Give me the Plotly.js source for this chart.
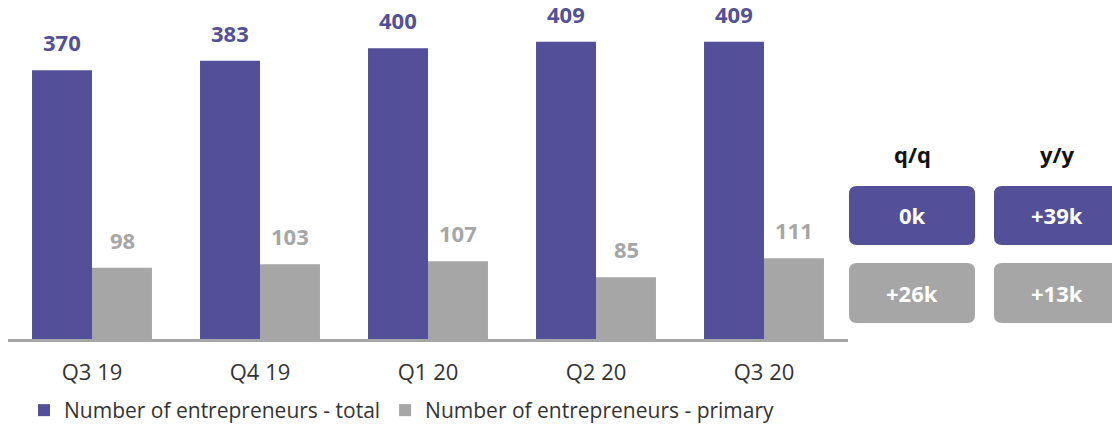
<!DOCTYPE html>
<html>
<head>
<meta charset="utf-8">
<script src="https://cdn.plot.ly/plotly-3.0.1.min.js"></script>
<style>html,body{margin:0;padding:0;background:#fff;}#chart{width:1112px;height:426px;}</style>
</head>
<body>
<div id="chart"></div>
<script>
const categories = ["Q3 19", "Q4 19", "Q1 20", "Q2 20", "Q3 20"];
const totalValues = [370, 383, 400, 409, 409];
const primaryValues = [98, 103, 107, 85, 111];
const seriesNames = ["Number of entrepreneurs - total", "Number of entrepreneurs - primary"];
const changeHeaders = ["q/q", "y/y"];
const totalChanges = ["0k", "+39k"];
const primaryChanges = ["+26k", "+13k"];

const PURPLE = "#534F99";
const GREY = "#A6A6A6";
const FONT = "Open Sans, sans-serif";

const W = 1112, H = 426;
const M = {l: 8, r: 264, t: 12, b: 87, autoexpand: false};
const PW = W - M.l - M.r, PH = H - M.t - M.b;
const px2x = p => (p - M.l) / PW;
const py2y = p => (H - M.b - p) / PH;

function roundRect(x0, y0, x1, y1, r) {
  const X0 = px2x(x0), X1 = px2x(x1), Y0 = py2y(y0), Y1 = py2y(y1);
  const rx = r / PW, ry = r / PH;
  return `M${X0 + rx},${Y0} L${X1 - rx},${Y0} Q${X1},${Y0} ${X1},${Y0 - ry} ` +
         `L${X1},${Y1 + ry} Q${X1},${Y1} ${X1 - rx},${Y1} L${X0 + rx},${Y1} ` +
         `Q${X0},${Y1} ${X0},${Y1 + ry} L${X0},${Y0 - ry} Q${X0},${Y0} ${X0 + rx},${Y0} Z`;
}

const traces = [
  {type: "bar", x: categories, y: totalValues, name: seriesNames[0],
   marker: {color: PURPLE}, offsetgroup: "a", hoverinfo: "skip"},
  {type: "bar", x: categories, y: primaryValues, name: seriesNames[1],
   marker: {color: GREY}, offsetgroup: "b", hoverinfo: "skip"}
];

const annotations = [];
categories.forEach((c, i) => {
  annotations.push({x: c, y: totalValues[i], xref: "x", yref: "y", text: String(totalValues[i]),
    showarrow: false, yanchor: "bottom", xshift: -30, yshift: 11,
    font: {family: FONT, size: 22, color: PURPLE, weight: 700}});
  annotations.push({x: c, y: primaryValues[i], xref: "x", yref: "y", text: String(primaryValues[i]),
    showarrow: false, yanchor: "bottom", xshift: 30, yshift: 11,
    font: {family: FONT, size: 22, color: GREY, weight: 700}});
});

const colCenters = [912, 1057];
const boxX = [[849, 975], [994, 1122]];
const shapes = [];
changeHeaders.forEach((h, j) => {
  annotations.push({x: px2x(colCenters[j]), y: py2y(154), xref: "paper", yref: "paper", text: h,
    showarrow: false, xanchor: "center", yanchor: "middle",
    font: {family: FONT, size: 22, color: "#111", weight: 700}});
  shapes.push({type: "path", xref: "paper", yref: "paper", path: roundRect(boxX[j][0], 186, boxX[j][1], 245, 8),
    fillcolor: PURPLE, line: {width: 0}});
  shapes.push({type: "path", xref: "paper", yref: "paper", path: roundRect(boxX[j][0], 263, boxX[j][1], 323, 8),
    fillcolor: GREY, line: {width: 0}});
  annotations.push({x: px2x(colCenters[j]), y: py2y(215), xref: "paper", yref: "paper", text: totalChanges[j],
    showarrow: false, xanchor: "center", yanchor: "middle",
    font: {family: FONT, size: 22, color: "#fff", weight: 700}});
  annotations.push({x: px2x(colCenters[j]), y: py2y(293), xref: "paper", yref: "paper", text: primaryChanges[j],
    showarrow: false, xanchor: "center", yanchor: "middle",
    font: {family: FONT, size: 22, color: "#fff", weight: 700}});
});

const layout = {
  width: W, height: H,
  margin: M,
  paper_bgcolor: "#fff", plot_bgcolor: "#fff",
  barmode: "group", bargap: 0.286, bargroupgap: 0,
  showlegend: true,
  legend: {orientation: "h", x: px2x(24), xanchor: "left", y: py2y(390), yanchor: "top",
    font: {family: FONT, size: 21, color: "#333"}, itemwidth: 30, tracegroupgap: 0},
  xaxis: {type: "category", showgrid: false, zeroline: false, showline: true,
    linecolor: GREY, linewidth: 3, ticks: "", ticklabelstandoff: 12,
    tickfont: {family: FONT, size: 22, color: "#333"}, fixedrange: true},
  yaxis: {range: [0, 450], visible: false, showgrid: false, zeroline: false, fixedrange: true},
  annotations: annotations,
  shapes: shapes,
  font: {family: FONT}
};

Plotly.newPlot("chart", traces, layout, {displayModeBar: false, staticPlot: true});
</script>
</body>
</html>
